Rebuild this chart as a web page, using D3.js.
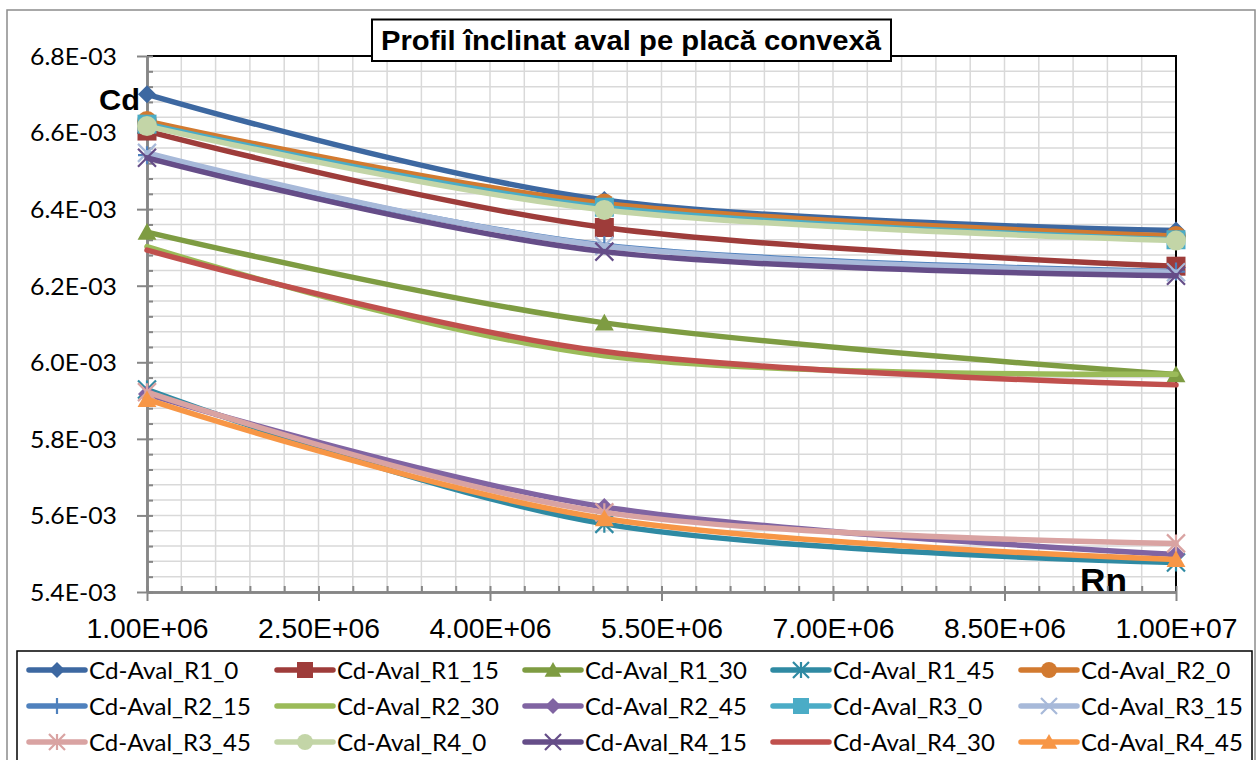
<!DOCTYPE html>
<html><head><meta charset="utf-8">
<script src="https://cdn.jsdelivr.net/npm/d3@7"></script>
<style>body{margin:0;background:#fff}svg{display:block}</style>
</head><body><svg id="c" width="1260" height="760"></svg>
<script>
// ---- data ----
const rn = [1e6, 5e6, 1e7];
const seriesNames = ["Cd-Aval_R1_0","Cd-Aval_R1_15","Cd-Aval_R1_30","Cd-Aval_R1_45","Cd-Aval_R2_0",
  "Cd-Aval_R2_15","Cd-Aval_R2_30","Cd-Aval_R2_45","Cd-Aval_R3_0","Cd-Aval_R3_15",
  "Cd-Aval_R3_45","Cd-Aval_R4_0","Cd-Aval_R4_15","Cd-Aval_R4_30","Cd-Aval_R4_45"];
const R1_0  = [6.700e-3, 6.424e-3, 6.344e-3];
const R1_15 = [6.604e-3, 6.352e-3, 6.251e-3];
const R1_30 = [6.340e-3, 6.103e-3, 5.968e-3];
const R1_45 = [5.929e-3, 5.578e-3, 5.477e-3];
const R2_0  = [6.630e-3, 6.415e-3, 6.330e-3];
const R2_15 = [6.541e-3, 6.306e-3, 6.237e-3];
const R2_30 = [6.302e-3, 6.017e-3, 5.969e-3];
const R2_45 = [5.917e-3, 5.622e-3, 5.498e-3];
const R3_0  = [6.622e-3, 6.405e-3, 6.320e-3];
const R3_15 = [6.547e-3, 6.304e-3, 6.235e-3];
const R3_45 = [5.922e-3, 5.608e-3, 5.527e-3];
const R4_0  = [6.617e-3, 6.398e-3, 6.318e-3];
const R4_15 = [6.534e-3, 6.289e-3, 6.226e-3];
const R4_30 = [6.293e-3, 6.028e-3, 5.941e-3];
const R4_45 = [5.903e-3, 5.592e-3, 5.485e-3];
const seriesValues = [R1_0,R1_15,R1_30,R1_45,R2_0,R2_15,R2_30,R2_45,R3_0,R3_15,R3_45,R4_0,R4_15,R4_30,R4_45];
const xTickValues = [1e6, 2.5e6, 4e6, 5.5e6, 7e6, 8.5e6, 1e7];
const xTickLabels = ["1.00E+06","2.50E+06","4.00E+06","5.50E+06","7.00E+06","8.50E+06","1.00E+07"];
const yTickValues = [5.4e-3,5.6e-3,5.8e-3,6.0e-3,6.2e-3,6.4e-3,6.6e-3,6.8e-3];
const yTickLabels = ["5.4E-03","5.6E-03","5.8E-03","6.0E-03","6.2E-03","6.4E-03","6.6E-03","6.8E-03"];
const titleText = "Profil înclinat aval pe placă convexă";

// ---- styles ----
const colors = ["#3D68A1","#9E3C3A","#7E9C42","#2F8AA3","#D27A30",
  "#4F81BD","#9BBB59","#8064A2","#4BACC6","#A7B9D9",
  "#D9A3A2","#C3D5A7","#654D88","#C0504D","#F79646"];
const markers = ["diamond","square","triangle","asterisk","circle",
  "plus","none","diamond","square","x",
  "asterisk","circle","x","none","triangle"];

const svg = d3.select("#c");
const L = 147, R = 1176, T = 56, B = 592;
const x = d3.scaleLinear().domain([1e6, 1e7]).range([L, R]);
const y = d3.scaleLinear().domain([5.4e-3, 6.8e-3]).range([B, T]);

// outer chart border
svg.append("rect").attr("x",7).attr("y",10).attr("width",1248).attr("height",780)
  .attr("fill","#fff").attr("stroke","#8c8c8c").attr("stroke-width",1.5);

// grid
const xMinor = d3.range(0,31).map(i => 1e6 + i*3e5);
const yMinor = d3.range(0,36).map(i => 5.4e-3 + i*0.04e-3);
const grid = svg.append("g").attr("stroke","#d9d9d9").attr("stroke-width",1.5);
grid.selectAll("line.v").data(xMinor).join("line").attr("class","v")
  .attr("x1",d=>x(d)).attr("x2",d=>x(d)).attr("y1",T).attr("y2",B);
grid.selectAll("line.h").data(yMinor).join("line").attr("class","h")
  .attr("y1",d=>y(d)).attr("y2",d=>y(d)).attr("x1",L).attr("x2",R);

// plot border top/right
svg.append("path").attr("d",`M${L},${T}H${R}V${B}`).attr("fill","none").attr("stroke","#000").attr("stroke-width",2);

// Rn label
svg.append("text").attr("x",1080).attr("y",592).attr("font-family","Liberation Sans, Arial, sans-serif")
  .attr("font-weight","bold").attr("font-size",33).attr("textLength",47).attr("lengthAdjust","spacingAndGlyphs").text("Rn");

// axes
const axisColor = "#868686";
const gyMinor = svg.append("g").attr("transform",`translate(${L},0)`)
  .call(d3.axisLeft(y).tickValues(yMinor).tickSizeInner(-6).tickSizeOuter(0).tickFormat(""));
const gxMinor = svg.append("g").attr("transform",`translate(0,${B})`)
  .call(d3.axisBottom(x).tickValues(xMinor).tickSizeInner(-6).tickSizeOuter(0).tickFormat(""));
const gy = svg.append("g").attr("transform",`translate(${L},0)`)
  .call(d3.axisLeft(y).tickValues(yTickValues).tickSizeInner(10).tickSizeOuter(0).tickPadding(20)
    .tickFormat((d,i)=>yTickLabels[i]));
const gx = svg.append("g").attr("transform",`translate(0,${B})`)
  .call(d3.axisBottom(x).tickValues(xTickValues).tickSizeInner(9).tickSizeOuter(0)
    .tickFormat((d,i)=>xTickLabels[i]));
[gyMinor,gxMinor,gy,gx].forEach(g=>{
  g.selectAll("line").attr("stroke",axisColor).attr("stroke-width",2);
  g.select(".domain").attr("stroke",axisColor).attr("stroke-width",2.5);
});
gy.selectAll("text").attr("font-family","Lato, 'Open Sans', sans-serif").attr("font-size",24)
  .attr("fill","#000").attr("dy","0.35em").attr("textLength",87).attr("lengthAdjust","spacingAndGlyphs");
gx.selectAll("text").attr("font-family","Liberation Sans, Arial, sans-serif").attr("font-size",28)
  .attr("fill","#000").attr("y",46).attr("dy",0).attr("textLength",122).attr("lengthAdjust","spacingAndGlyphs");

// marker drawer
function drawMarker(g, type, color, s) {
  const h = s/2;
  if (type === "diamond") g.append("path").attr("d",`M0,${-h}L${h},0L0,${h}L${-h},0Z`).attr("fill",color);
  else if (type === "square") g.append("rect").attr("x",-h).attr("y",-h).attr("width",s).attr("height",s).attr("fill",color);
  else if (type === "triangle") g.append("path").attr("d",`M0,${-h}L${h*1.05},${h*0.85}L${-h*1.05},${h*0.85}Z`).attr("fill",color);
  else if (type === "circle") g.append("circle").attr("r",h).attr("fill",color);
  else if (type === "x" || type === "asterisk" || type === "plus") {
    let d = "";
    if (type !== "plus") d += `M${-h},${-h}L${h},${h}M${-h},${h}L${h},${-h}`;
    if (type !== "x") d += `M0,${-h}L0,${h}`;
    if (type === "plus") d += `M${-h},0L${h},0`;
    g.append("path").attr("d",d).attr("stroke",color).attr("stroke-width",2.2).attr("fill","none");
  }
}

// series
const line = d3.line().x((d,i)=>x(rn[i])).y(d=>y(d)).curve(d3.curveCatmullRom.alpha(0));
const gs = svg.append("g");
seriesValues.forEach((vals, k) => {
  const g = gs.append("g");
  g.append("path").attr("d", line(vals)).attr("fill","none").attr("stroke",colors[k])
    .attr("stroke-width",5.5).attr("stroke-linecap","round").attr("stroke-linejoin","round");
  vals.forEach((v,i)=>{
    const m = g.append("g").attr("transform",`translate(${x(rn[i])},${y(v)})`);
    drawMarker(m, markers[k], colors[k], markers[k]==="circle"?20:(markers[k]==="square"?19:18));
  });
});

// Cd label
svg.append("text").attr("x",99).attr("y",110).attr("font-family","Liberation Sans, Arial, sans-serif")
  .attr("font-weight","bold").attr("font-size",30).attr("textLength",41).attr("lengthAdjust","spacingAndGlyphs").text("Cd");

// title
svg.append("rect").attr("x",372).attr("y",19.5).attr("width",519).attr("height",41.5)
  .attr("fill","#fff").attr("stroke","#000").attr("stroke-width",2);
svg.append("text").attr("x",631).attr("y",50).attr("text-anchor","middle")
  .attr("font-family","Liberation Sans, Arial, sans-serif").attr("font-weight","bold").attr("font-size",28)
  .attr("textLength",500).attr("lengthAdjust","spacingAndGlyphs").text(titleText);

// legend
svg.append("rect").attr("x",17).attr("y",651).attr("width",1235).attr("height",140)
  .attr("fill","#fff").attr("stroke","#000").attr("stroke-width",1.5);
const colX = [29, 277, 525, 773, 1021];
const rowY = [670, 706, 742];
seriesNames.forEach((name,k)=>{
  const cx = colX[k%5], cy = rowY[Math.floor(k/5)];
  const g = svg.append("g").attr("transform",`translate(${cx},${cy})`);
  g.append("line").attr("x1",0).attr("x2",56).attr("stroke",colors[k]).attr("stroke-width",5.5).attr("stroke-linecap","round");
  const m = g.append("g").attr("transform","translate(28,0)");
  drawMarker(m, markers[k], colors[k], 16);
  g.append("text").attr("x",60).attr("y",8.5).attr("font-family","Lato, 'Open Sans', sans-serif").attr("font-size",24)
    .attr("textLength",name.length*12.45).attr("lengthAdjust","spacingAndGlyphs").text(name);
});
</script></body></html>
